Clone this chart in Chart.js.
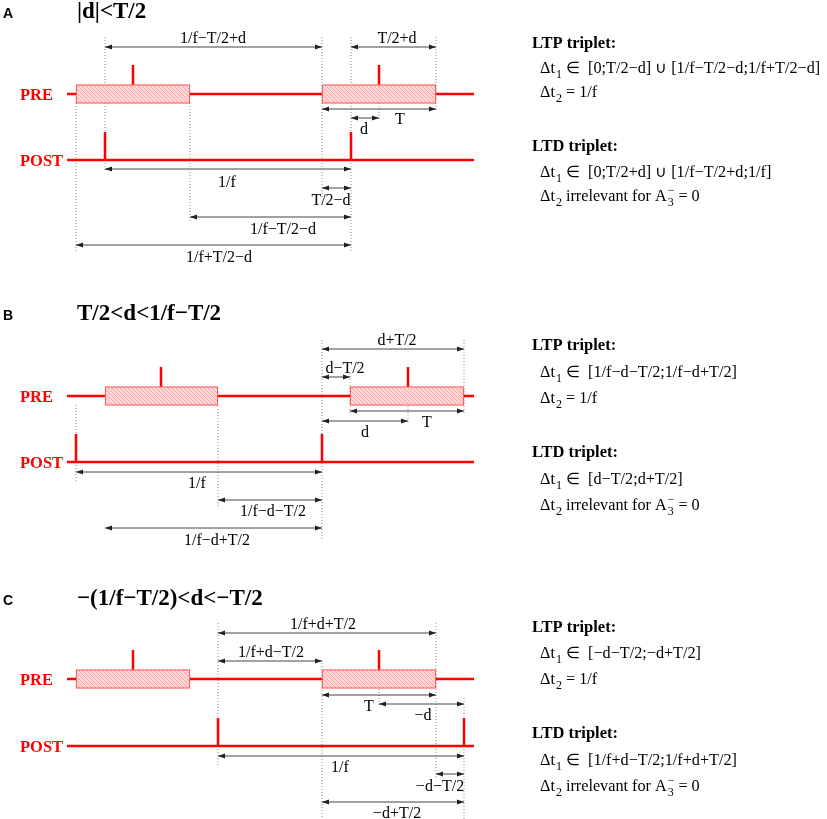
<!DOCTYPE html>
<html>
<head>
<meta charset="utf-8">
<script src="https://cdn.jsdelivr.net/npm/chart.js@4.4.1/dist/chart.umd.min.js"></script>
<style>
  html, body { margin: 0; padding: 0; background: #fff; }
</style>
</head>
<body>
<canvas id="myChart" width="827" height="819"></canvas>
<script>
// figure coordinates: x = time along the spike trains, y = row of the figure (top down)
const letters = ["A", "B", "C"];
const titles = ["|d|<T/2", "T/2<d<1/f\u2212T/2", "\u2212(1/f\u2212T/2)<d<\u2212T/2"];
const titleRows = [18, 320, 605];
const preRows = [94, 396, 679];
const postRows = [160, 462, 746];
const trainSpan = [67, 474];

// panel A
const boxesA = [[76, 190], [322, 436]];
const preSpikesA = [133, 379];
const postSpikesA = [105, 351];
const guidesA = [[105, 37, 170], [322, 37, 197], [351, 37, 252], [436, 37, 110],
                 [76, 103, 252], [190, 103, 223], [379, 103, 120]];
const arrowsA = [
  [105, 322, 47, "1/f\u2212T/2+d", 213, 43],
  [351, 436, 47, "T/2+d", 397, 43],
  [322, 436, 109, "T", 400, 124],
  [351, 379, 118, "d", 364, 134],
  [105, 351, 169, "1/f", 227, 187],
  [322, 351, 188, "T/2\u2212d", 331, 205],
  [190, 351, 217, "1/f\u2212T/2\u2212d", 283, 234],
  [76, 351, 245, "1/f+T/2\u2212d", 219, 262]
];

// panel B
const boxesB = [[105, 218], [350, 464]];
const preSpikesB = [161, 408];
const postSpikesB = [76, 322];
const guidesB = [[76, 405, 482], [218, 406, 508], [322, 340, 540], [350, 373, 413],
                 [408, 406, 423], [464, 340, 413]];
const arrowsB = [
  [322, 464, 349, "d+T/2", 397, 345],
  [322, 350, 377, "d\u2212T/2", 345, 373],
  [350, 464, 411, "T", 427, 427],
  [322, 408, 421, "d", 365, 437],
  [76, 322, 472, "1/f", 197, 488],
  [218, 322, 500, "1/f\u2212d\u2212T/2", 273, 516],
  [105, 322, 528, "1/f\u2212d+T/2", 217, 545]
];

// panel C
const boxesC = [[76, 190], [322, 436]];
const preSpikesC = [133, 379];
const postSpikesC = [218, 464];
const guidesC = [[218, 623, 767], [322, 660, 819], [436, 623, 777], [464, 698, 819],
                 [379, 689, 707]];
const arrowsC = [
  [218, 436, 633, "1/f+d+T/2", 323, 629],
  [218, 322, 661, "1/f+d\u2212T/2", 271, 657],
  [322, 436, 695, "T", 369, 711],
  [379, 464, 704, "\u2212d", 423, 720],
  [218, 464, 756, "1/f", 340, 772],
  [436, 464, 774, "\u2212d\u2212T/2", 440, 791],
  [322, 464, 802, "\u2212d+T/2", 397, 818]
];

// right hand side conditions, [sub] = subscript, [sub, sup] = stacked
const ltpA = [["\u0394t", ["1"], " \u2208  [0;T/2\u2212d] \u222a [1/f\u2212T/2\u2212d;1/f+T/2\u2212d]"], ["\u0394t", ["2"], " = 1/f"]];
const ltdA = [["\u0394t", ["1"], " \u2208  [0;T/2+d] \u222a [1/f\u2212T/2+d;1/f]"], ["\u0394t", ["2"], " irrelevant for A", ["3", "\u2212"], " = 0"]];
const ltpB = [["\u0394t", ["1"], " \u2208  [1/f\u2212d\u2212T/2;1/f\u2212d+T/2]"], ["\u0394t", ["2"], " = 1/f"]];
const ltdB = [["\u0394t", ["1"], " \u2208  [d\u2212T/2;d+T/2]"], ["\u0394t", ["2"], " irrelevant for A", ["3", "\u2212"], " = 0"]];
const ltpC = [["\u0394t", ["1"], " \u2208  [\u2212d\u2212T/2;\u2212d+T/2]"], ["\u0394t", ["2"], " = 1/f"]];
const ltdC = [["\u0394t", ["1"], " \u2208  [1/f+d\u2212T/2;1/f+d+T/2]"], ["\u0394t", ["2"], " irrelevant for A", ["3", "\u2212"], " = 0"]];
const textRows = [[48, 73, 97, 151, 177, 201], [350, 377, 403, 457, 484, 510], [632, 658, 684, 738, 765, 791]];

const panels = [
  { boxes: boxesA, pre: preSpikesA, post: postSpikesA, guides: guidesA, arrows: arrowsA, ltp: ltpA, ltd: ltdA },
  { boxes: boxesB, pre: preSpikesB, post: postSpikesB, guides: guidesB, arrows: arrowsB, ltp: ltpB, ltd: ltdB },
  { boxes: boxesC, pre: preSpikesC, post: postSpikesC, guides: guidesC, arrows: arrowsC, ltp: ltpC, ltd: ltdC }
];

const RED = "#ff0000";
const SERIF = "'Liberation Serif', 'Times New Roman', serif";
const SANS = "'Liberation Sans', Arial, sans-serif";
const spikeUp = 29;

// hatched fill for the bursts
function hatch() {
  let c = document.createElement("canvas");
  c.width = 4; c.height = 4;
  let g = c.getContext("2d");
  g.fillStyle = "#ffd9d9";
  g.fillRect(0, 0, 4, 4);
  g.strokeStyle = "#ff9c9c";
  g.lineWidth = 0.9;
  g.beginPath();
  g.moveTo(-1, -1); g.lineTo(5, 5);
  g.moveTo(-1, 3); g.lineTo(1, 5);
  g.moveTo(3, -1); g.lineTo(5, 1);
  g.stroke();
  return g.createPattern(c, "repeat");
}

function segments(list) {
  let pts = [];
  list.forEach(s => {
    pts.push({ x: s[0], y: s[1] }, { x: s[2], y: s[3] }, { x: s[2], y: null });
  });
  return pts;
}

let trainSegs = [], spikeSegs = [], guideSegs = [], arrowSegs = [], bars = [];
panels.forEach((p, i) => {
  trainSegs.push([trainSpan[0], preRows[i], trainSpan[1], preRows[i]]);
  trainSegs.push([trainSpan[0], postRows[i], trainSpan[1], postRows[i]]);
  p.pre.forEach(x => spikeSegs.push([x, preRows[i], x, preRows[i] - spikeUp]));
  p.post.forEach(x => spikeSegs.push([x, postRows[i], x, postRows[i] - 28]));
  p.guides.forEach(g => guideSegs.push([g[0], g[1], g[0], g[2]]));
  p.arrows.forEach(a => arrowSegs.push([a[0], a[2], a[1], a[2]]));
  p.boxes.forEach(b => bars.push({ x: b, y: preRows[i] }));
});

const line = { type: "line", pointRadius: 0, fill: false, tension: 0, spanGaps: false, borderCapStyle: "butt" };

// arrow heads at both ends of every dimension line
const arrowHeads = {
  id: "arrowHeads",
  afterDatasetsDraw(chart) {
    const ctx = chart.ctx, xs = chart.scales.x, ys = chart.scales.y;
    ctx.save();
    ctx.fillStyle = "#222";
    arrowSegs.forEach(s => {
      let y = ys.getPixelForValue(s[1]);
      let a = xs.getPixelForValue(s[0]), b = xs.getPixelForValue(s[2]);
      ctx.beginPath();
      ctx.moveTo(a, y); ctx.lineTo(a + 7, y - 2.5); ctx.lineTo(a + 7, y + 2.5); ctx.closePath();
      ctx.moveTo(b, y); ctx.lineTo(b - 7, y - 2.5); ctx.lineTo(b - 7, y + 2.5); ctx.closePath();
      ctx.fill();
    });
    ctx.restore();
  }
};

function richText(ctx, parts, x, y, size) {
  parts.forEach(p => {
    if (typeof p === "string") {
      ctx.font = size + "px " + SERIF;
      ctx.fillText(p, x, y);
      x += ctx.measureText(p).width;
    } else {
      ctx.font = Math.round(size * 0.72) + "px " + SERIF;
      ctx.fillText(p[0], x + 1, y + size * 0.32);
      let w = ctx.measureText(p[0]).width;
      if (p[1]) {
        ctx.fillText(p[1], x + 1, y - size * 0.42);
        w = Math.max(w, ctx.measureText(p[1]).width);
      }
      x += w + 1;
    }
  });
}

const labels = {
  id: "labels",
  afterDatasetsDraw(chart) {
    const ctx = chart.ctx, xs = chart.scales.x, ys = chart.scales.y;
    const X = v => xs.getPixelForValue(v), Y = v => ys.getPixelForValue(v);
    ctx.save();
    ctx.textBaseline = "alphabetic";
    panels.forEach((p, i) => {
      ctx.fillStyle = "#000";
      ctx.textAlign = "left";
      ctx.font = "bold 14px " + SANS;
      ctx.fillText(letters[i], X(3), Y(titleRows[i]));
      ctx.font = "bold 23px " + SERIF;
      ctx.fillText(titles[i], X(77), Y(titleRows[i]));

      ctx.fillStyle = RED;
      ctx.font = "bold 16.5px " + SERIF;
      ctx.fillText("PRE", X(20), Y(preRows[i] + 6));
      ctx.fillText("POST", X(20), Y(postRows[i] + 6));

      ctx.fillStyle = "#000";
      ctx.textAlign = "center";
      ctx.font = "16px " + SERIF;
      p.arrows.forEach(a => ctx.fillText(a[3], X(a[4]), Y(a[5])));

      ctx.textAlign = "left";
      const r = textRows[i];
      ctx.font = "bold 16.5px " + SERIF;
      ctx.fillText("LTP triplet:", X(532), Y(r[0]));
      ctx.fillText("LTD triplet:", X(532), Y(r[3]));
      richText(ctx, p.ltp[0], X(540), Y(r[1]), 16.2);
      richText(ctx, p.ltp[1], X(540), Y(r[2]), 16.2);
      richText(ctx, p.ltd[0], X(540), Y(r[4]), 16.2);
      richText(ctx, p.ltd[1], X(540), Y(r[5]), 16.2);
    });
    ctx.restore();
  }
};

let ctx = document.getElementById("myChart").getContext("2d");

let myChart = new Chart(ctx, {
  type: "line",
  data: {
    datasets: [
      Object.assign({}, line, { data: segments(arrowSegs), borderColor: "#444", borderWidth: 1, order: 1 }),
      { type: "bar", indexAxis: "y", data: bars, grouped: false, barThickness: 19,
        backgroundColor: hatch(), borderColor: "#ff5a5a", borderWidth: 1.3, borderSkipped: false, order: 2 },
      Object.assign({}, line, { data: segments(spikeSegs), borderColor: RED, borderWidth: 2.5, order: 3 }),
      Object.assign({}, line, { data: segments(trainSegs), borderColor: RED, borderWidth: 2.5, order: 4 }),
      Object.assign({}, line, { data: segments(guideSegs), borderColor: "#8a8a8a", borderWidth: 1, borderDash: [1, 2], order: 5 })
    ]
  },
  options: {
    responsive: false,
    animation: false,
    events: [],
    layout: { padding: 0 },
    plugins: { legend: { display: false }, tooltip: { enabled: false } },
    scales: {
      x: { type: "linear", min: 0, max: 827, offset: false, display: false },
      y: { type: "linear", min: 0, max: 819, reverse: true, offset: false, display: false }
    }
  },
  plugins: [arrowHeads, labels]
});
</script>
</body>
</html>
